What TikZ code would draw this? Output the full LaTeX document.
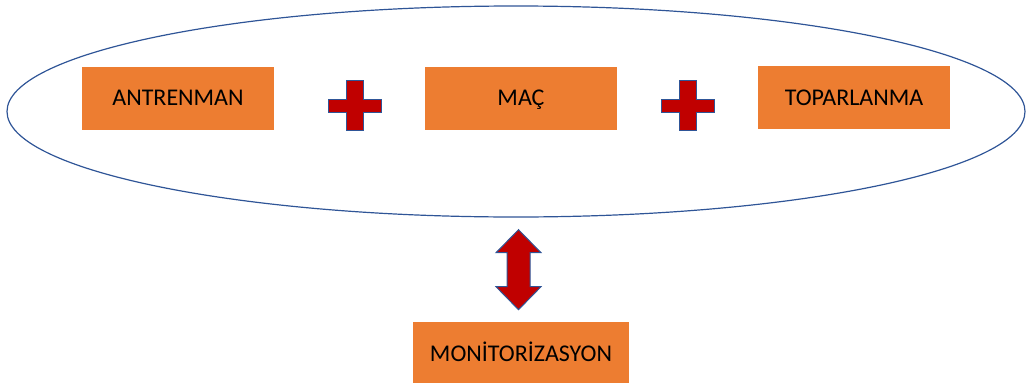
\documentclass[tikz,border=0pt]{standalone}
\usepackage{fontspec}
\setmainfont{Carlito}
\usetikzlibrary{shapes.geometric, positioning, calc}
\definecolor{boxorange}{HTML}{ED7D31}
\definecolor{plusred}{HTML}{C00000}
\definecolor{edgeblue}{HTML}{2F5597}

\begin{document}
\begin{tikzpicture}[x=1pt, y=-1pt,
  stage/.style={rectangle, fill=boxorange, minimum width=192pt, minimum height=63pt, inner sep=0pt, text height=15.5pt, text depth=0pt, font=\fontsize{24}{28}\selectfont},
  blockred/.style={fill=plusred, draw=edgeblue, line width=1pt, line join=miter}]
\useasboundingbox (0,0) rectangle (1026,383);

% Outer loop
\node[ellipse, draw=edgeblue, line width=1.2pt, minimum width=1018pt, minimum height=211pt] (cycle) at (516,111.5) {};

% Three stages
\node[stage] (train) at (178,98) {ANTRENMAN};
\node[stage] (match) at (521,98) {MAÇ};
\node[stage] (recovery) at (854,97.5) {TOPARLANMA};

% Plus signs between stages
\foreach \px in {355,687.5}
  \draw[blockred] (\px-8.5,80.5) -- (\px+8.5,80.5) -- (\px+8.5,99) -- (\px+26.5,99) -- (\px+26.5,112) -- (\px+8.5,112) -- (\px+8.5,130.5) -- (\px-8.5,130.5) -- (\px-8.5,112) -- (\px-26.5,112) -- (\px-26.5,99) -- (\px-8.5,99) -- cycle;

% Monitoring
\node[stage, minimum width=216pt] (monitor) at (521,353.5) {MONİTORİZASYON};

% Two-way link
\coordinate (link) at ($(cycle.south)!0.5!(monitor.north)$);
\draw[blockred, shift={(link)}] (0,-40) -- (22.5,-17) -- (11.5,-17) -- (11.5,17) -- (22.5,17) -- (0,40) -- (-22.5,17) -- (-11.5,17) -- (-11.5,-17) -- (-22.5,-17) -- cycle;

\end{tikzpicture}
\end{document}
